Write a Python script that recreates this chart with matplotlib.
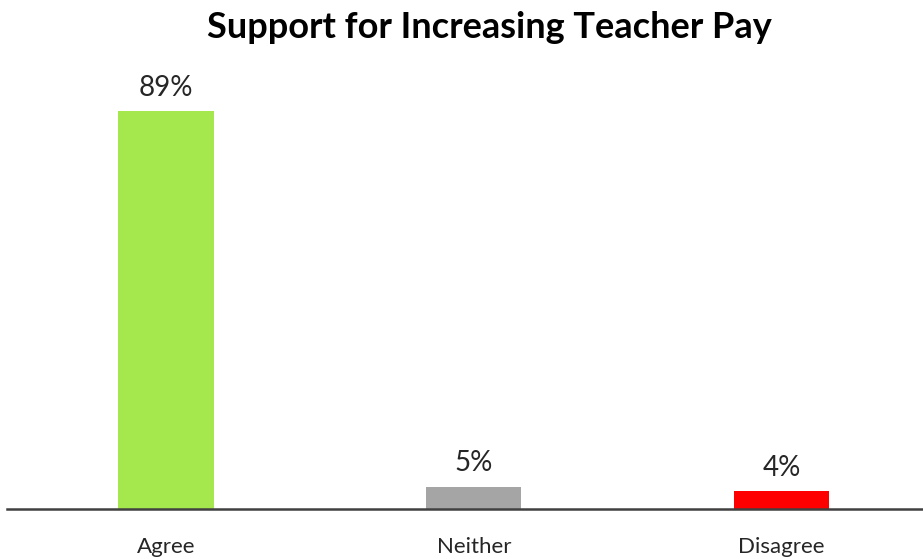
import matplotlib.pyplot as plt

categories = ['Agree', 'Neither', 'Disagree']
values = [89, 5, 4]
colors = ['#a5e84d', '#a5a5a5', '#ff0000']

plt.rcParams['font.family'] = ['Lato', 'DejaVu Sans']

fig = plt.figure(figsize=(9.23, 5.59), dpi=100)
ax = fig.add_axes([0.0076, 0.0894, 0.9924, 0.80])

x = range(len(categories))
bars = ax.bar(x, values, width=0.31, color=colors)

for b, v in zip(bars, values):
    ax.text(b.get_x() + b.get_width() / 2, v + 2.3, f'{v}%',
            ha='center', va='bottom', fontsize=20, color='#262626')

ax.set_xlim(-0.517, 2.46)
ax.set_ylim(0, 100)
ax.set_yticks([])
ax.set_xticks(list(x))
ax.set_xticklabels(categories, fontsize=16, color='#262626')
ax.tick_params(axis='x', length=0, pad=20)

for s in ['top', 'right', 'left']:
    ax.spines[s].set_visible(False)
ax.spines['bottom'].set_linewidth(1.8)
ax.spines['bottom'].set_color('#404040')

fig.text(0.53, 0.95, 'Support for Increasing Teacher Pay', ha='center', va='center',
         fontsize=26, fontweight='bold', color='black')

fig.savefig('out.png', dpi=100)
